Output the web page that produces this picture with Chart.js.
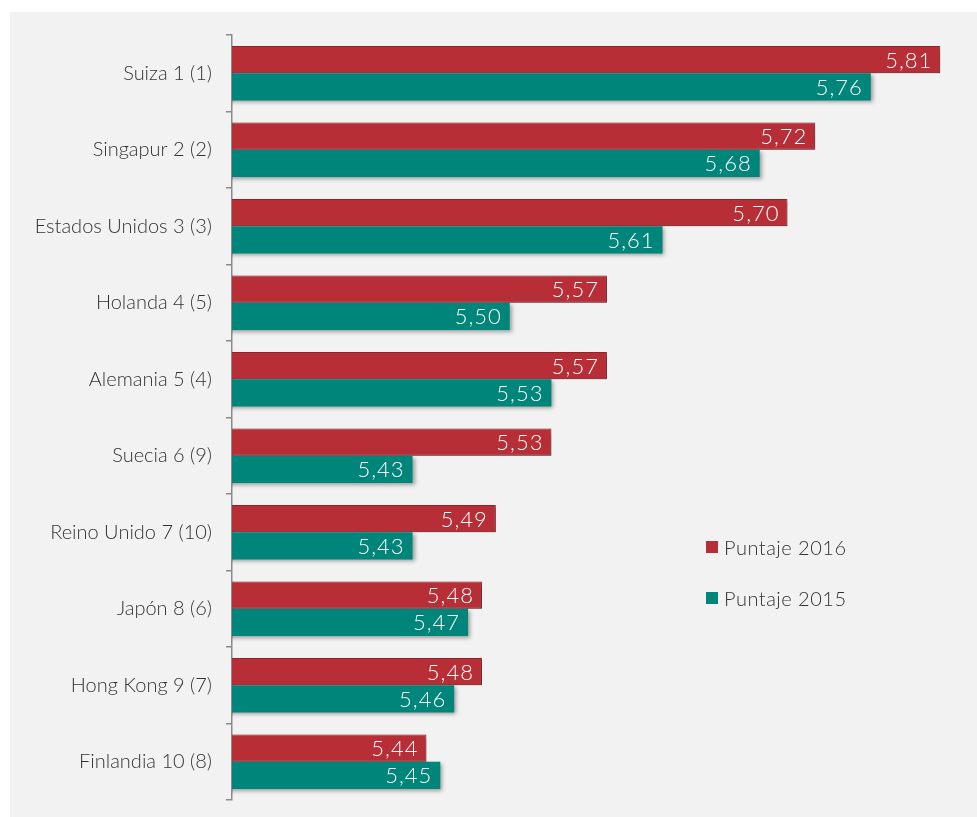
<!DOCTYPE html>
<html>
<head>
<meta charset="utf-8">
<script src="https://cdn.jsdelivr.net/npm/chart.js@4/dist/chart.umd.min.js"></script>
<style>
  body{ margin:0; background:#fff; font-family:Lato, sans-serif; }
  #panel{ position:absolute; left:10px; top:12px; width:967px; height:805px; background:#f2f2f2; }
  #chart{ position:absolute; left:0; top:0; }
  .leg{ position:absolute; left:696px; font-size:20px; font-weight:300; color:#333; display:flex; align-items:center; letter-spacing:0.5px; }
  .leg i{ display:inline-block; width:12px; height:12px; margin-right:6px; }
</style>
</head>
<body>
<div id="panel">
  <canvas id="chart" width="967" height="805"></canvas>
  <div class="leg" style="top:523px"><i style="background:#b82e37"></i>Puntaje 2016</div>
  <div class="leg" style="top:574px"><i style="background:#00857a"></i>Puntaje 2015</div>
</div>
<script>
// Datos del gráfico
const paises = ['Suiza 1 (1)','Singapur 2 (2)','Estados Unidos 3 (3)','Holanda 4 (5)','Alemania 5 (4)',
  'Suecia 6 (9)','Reino Unido 7 (10)','Japón 8 (6)','Hong Kong 9 (7)','Finlandia 10 (8)'];
const puntaje2016 = [5.81, 5.72, 5.70, 5.57, 5.57, 5.53, 5.49, 5.48, 5.48, 5.44];
const puntaje2015 = [5.76, 5.68, 5.61, 5.50, 5.53, 5.43, 5.43, 5.47, 5.46, 5.45];

const fmt = v => v.toFixed(2).replace('.', ',');

// sombra suave bajo las barras
const sombra = {
  id: 'sombra',
  beforeDatasetsDraw(chart){
    const ctx = chart.ctx;
    ctx.save();
    ctx.shadowColor = 'rgba(0,0,0,0.35)';
    ctx.shadowBlur = 4;
    ctx.shadowOffsetX = 2;
    ctx.shadowOffsetY = 2;
  },
  afterDatasetsDraw(chart){ chart.ctx.restore(); }
};

// etiquetas de valor dentro del extremo de la barra
const etiquetas = {
  id: 'etiquetas',
  afterDraw(chart){
    const ctx = chart.ctx;
    ctx.save();
    ctx.font = '300 22px Lato, sans-serif';
    ctx.letterSpacing = '1px';
    ctx.fillStyle = '#fff';
    ctx.textAlign = 'right';
    ctx.textBaseline = 'middle';
    chart.data.datasets.forEach((ds, i) => {
      chart.getDatasetMeta(i).data.forEach((bar, j) => {
        ctx.fillText(fmt(ds.data[j]), bar.x - 8, bar.y + 1);
      });
    });
    ctx.restore();
  }
};

new Chart(document.getElementById('chart'), {
  type: 'bar',
  data: {
    labels: paises,
    datasets: [
      { label: 'Puntaje 2016', data: puntaje2016, backgroundColor: '#b82e37',
        borderColor: '#962630', borderWidth: 1, borderSkipped: 'left' },
      { label: 'Puntaje 2015', data: puntaje2015, backgroundColor: '#00857a', borderWidth: 0 }
    ]
  },
  options: {
    indexAxis: 'y',
    responsive: false,
    animation: false,
    layout: { padding: { top: 23, bottom: 17, right: 9, left: 0 } },
    datasets: { bar: { categoryPercentage: 0.71, barPercentage: 1.0 } },
    plugins: { legend: { display: false }, tooltip: { enabled: false } },
    scales: {
      x: { display: false, min: 5.3, max: 5.83 },
      y: {
        afterFit: s => { s.width = 222; s.paddingTop = 0; s.paddingBottom = 0; },
        border: { color: '#8a8a8a', width: 1.5 },
        grid: { drawOnChartArea: false, color: '#8a8a8a', tickLength: 6, lineWidth: 1.5, offset: true },
        ticks: { color: '#333', font: { family: 'Lato', size: 20, weight: '300' }, padding: 14 }
      }
    }
  },
  plugins: [sombra, etiquetas]
});
</script>
</body>
</html>
